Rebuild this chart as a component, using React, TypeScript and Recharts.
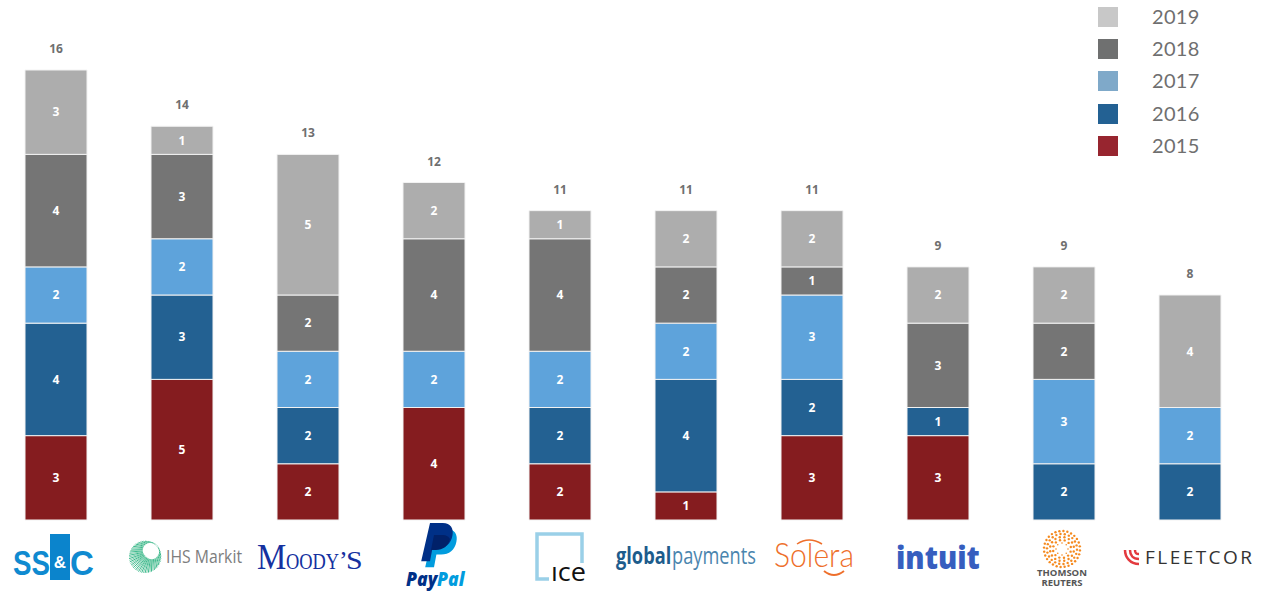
import { Bar, ComposedChart, LabelList, Legend, Line, XAxis, YAxis } from "recharts"

const companies = ["SS&C", "IHS Markit", "Moody's", "PayPal", "ICE", "Global Payments", "Solera", "Intuit", "Thomson Reuters", "FleetCor"]
const y2015 = [3, 5, 2, 4, 2, 1, 3, 3, null, null]
const y2016 = [4, 3, 2, null, 2, 4, 2, 1, 2, 2]
const y2017 = [2, 2, 2, 2, 2, 2, 3, null, 3, 2]
const y2018 = [4, 3, 2, 4, 4, 2, 1, 3, 2, null]
const y2019 = [3, 1, 5, 2, 1, 2, 2, 2, 2, 4]
const totals = [16, 14, 13, 12, 11, 11, 11, 9, 9, 8]

const seriesNames = ["2015", "2016", "2017", "2018", "2019"]
const barColors = ["#851c1f", "#236192", "#5ea3db", "#757575", "#adadad"]
const legendColors = ["#97252f", "#236193", "#7fa9c9", "#6f7070", "#c8c8c8"]

const data = companies.map((name, i) => ({
    name,
    "2015": y2015[i],
    "2016": y2016[i],
    "2017": y2017[i],
    "2018": y2018[i],
    "2019": y2019[i],
    total: totals[i],
}))

const labelFont = "'Open Sans', sans-serif"
const sansFont = "'Open Sans', sans-serif"

function YearLegend() {
    return (
        <div style={{ width: 120 }}>
            {seriesNames.map((_, i) => seriesNames.length - 1 - i).map(i => (
                <div key={seriesNames[i]} style={{ display: "flex", alignItems: "center", height: 32.2 }}>
                    <div style={{ width: 20, height: 20, background: legendColors[i] }} />
                    <div style={{ marginLeft: 34, position: "relative", top: -1, fontFamily: "Lato, sans-serif", fontSize: 20, letterSpacing: 0.3, color: "#6f6f6f" }}>
                        {seriesNames[i]}
                    </div>
                </div>
            ))}
        </div>
    )
}

// text stretched sideways, so its box stays where the glyphs end up
function Wide({ x, y, sx = 1, children, ...rest }: any) {
    return (
        <text transform={`translate(${x},${y}) scale(${sx},1)`} {...rest}>
            {children}
        </text>
    )
}

// the little brand marks under each column, origin is the column's centre on the baseline
function SsncLogo() {
    const font = { fontFamily: "'Liberation Sans', sans-serif", fontWeight: 700, fontSize: 36, fill: "#0f8ad0" }
    return (
        <g>
            <rect x={-6} y={14} width={20} height={46} fill="#0b84cc" />
            <Wide x={-43} y={55} sx={0.77} {...font}>SS</Wide>
            <text x={4} y={48} fill="#fff" fontSize={17} fontWeight={700} fontFamily={font.fontFamily} textAnchor="middle">&amp;</text>
            <Wide x={14} y={55} sx={0.92} {...font}>C</Wide>
        </g>
    )
}

function IhsLogo() {
    const spokes = []
    for (let i = 0; i < 60; i++) {
        const a = (i / 60) * Math.PI * 2
        const inner = 5 + 3 * (1 + Math.cos(a + 0.8))
        spokes.push(
            <line key={i} x1={-37 + 4 + Math.cos(a) * inner} y1={37 - 4 + Math.sin(a) * inner}
                x2={-37 + Math.cos(a) * 16} y2={37 + Math.sin(a) * 16}
                stroke={i % 2 ? "#3ab98d" : "#7fd0ae"} strokeWidth={1} />
        )
    }
    return (
        <g>
            {spokes}
            <text x={-16} y={43} fill="#7d7d7d" fontSize={18} fontFamily={sansFont} textLength={76} lengthAdjust="spacingAndGlyphs">IHS Markit</text>
        </g>
    )
}

function MoodysLogo() {
    const font = { fontFamily: "'Liberation Serif', serif", fill: "#15319f" }
    return (
        <g>
            <Wide x={-51} y={49} sx={0.94} fontSize={35} {...font}>M</Wide>
            <Wide x={-22} y={49} sx={0.8} fontSize={23} {...font}>OODY</Wide>
            <Wide x={31} y={49} fontSize={26} {...font}>’</Wide>
            <Wide x={38} y={49} sx={1.15} fontSize={26} {...font}>S</Wide>
        </g>
    )
}

function PaypalLogo() {
    const shape = "M0,0 h16 c10,0 14,7 12,15 c-2,10 -9,15 -19,15 h-6 l-3,15 h-11 z"
    const font = { fontFamily: sansFont, fontWeight: 800, fontStyle: "italic", fontSize: 19 }
    return (
        <g>
            <path d={shape} transform="translate(0,9) scale(.8,.85)" fill="#019cde" />
            <path d={shape} transform="translate(-4,3) scale(.8,.85)" fill="#003087" />
            <path d="M0,15 h9 c3,0 6,2 7,4 c-2,7 -7,11 -14,11 h-5 z" fill="#012169" />
            <Wide x={-28} y={66} sx={0.93} fill="#003087" {...font}>Pay</Wide>
            <Wide x={3} y={66} sx={0.93} fill="#019cde" {...font}>Pal</Wide>
        </g>
    )
}

function IceLogo() {
    return (
        <g>
            <path d="M22,43 V14 H-23 V59 H-11" fill="none" stroke="#9ad0e8" strokeWidth={3.5} />
            <text x={-9} y={61} fill="#111" fontFamily={sansFont} fontSize={25} textLength={35} lengthAdjust="spacingAndGlyphs">ıce</text>
        </g>
    )
}

function GlobalPaymentsLogo() {
    const font = { fontFamily: sansFont, fontSize: 24 }
    return (
        <g>
            <Wide x={-70} y={44} sx={0.76} fill="#1d5c8c" fontWeight={700} {...font}>global</Wide>
            <Wide x={-14} y={44} sx={0.76} fill="#4a85ae" {...font}>payments</Wide>
        </g>
    )
}

function SoleraLogo() {
    return (
        <g>
            <text x={-38} y={47} fill="#ee6f2b" fontFamily="Lato, sans-serif" fontWeight={300} fontSize={34} textLength={80} lengthAdjust="spacingAndGlyphs">Solera</text>
            <path d="M-15,24 q12,-8 25,0" fill="none" stroke="#ee6f2b" strokeWidth={1.5} />
            <path d="M12,51 q10,8 20,0" fill="none" stroke="#ee6f2b" strokeWidth={2} />
        </g>
    )
}

function IntuitLogo() {
    return (
        <Wide x={-42} y={49} sx={0.9} fill="#365ebf" fontFamily={sansFont} fontWeight={800} fontSize={32}>intuit</Wide>
    )
}

function ThomsonLogo() {
    const dots = []
    const rings = [[6, 8], [9, 12], [12, 16], [15, 22], [18, 28]]
    rings.forEach(([r, n], ri) => {
        for (let i = 0; i < n; i++) {
            const a = (i / n) * Math.PI * 2 + ri * 0.3
            dots.push(<circle key={ri + "-" + i} cx={-2 + Math.cos(a) * r} cy={29 + Math.sin(a) * r} r={ri === 0 ? 0.8 : 1.2} fill="#f58a1f" />)
        }
    })
    const font = { fontFamily: sansFont, fontWeight: 700, fontSize: 8.5, fill: "#555", textAnchor: "middle" as const }
    return (
        <g>
            {dots}
            <Wide x={-2} y={56} sx={1.12} {...font}>THOMSON</Wide>
            <Wide x={-2} y={66} sx={1.12} {...font}>REUTERS</Wide>
        </g>
    )
}

function FleetcorLogo() {
    return (
        <g>
            <path d="M-65,30 c0,7 5,14 14,14" fill="none" stroke="#e33a3f" strokeWidth={2.5} />
            <path d="M-60,30 c0,5 3,9 9,9" fill="none" stroke="#e33a3f" strokeWidth={2.5} />
            <path d="M-55,30 c0,3 1,4 4,4" fill="none" stroke="#e33a3f" strokeWidth={2.5} />
            <text x={-45} y={44} fill="#333" fontFamily={sansFont} fontSize={19} textLength={107} lengthAdjust="spacing">FLEETCOR</text>
        </g>
    )
}

const logos: Record<string, () => any> = {
    "SS&C": SsncLogo,
    "IHS Markit": IhsLogo,
    "Moody's": MoodysLogo,
    "PayPal": PaypalLogo,
    "ICE": IceLogo,
    "Global Payments": GlobalPaymentsLogo,
    "Solera": SoleraLogo,
    "Intuit": IntuitLogo,
    "Thomson Reuters": ThomsonLogo,
    "FleetCor": FleetcorLogo,
}

function LogoTick({ x, y, payload }: any) {
    const Logo = logos[payload.value]
    return (
        <g transform={`translate(${x},${y})`}>
            <Logo />
        </g>
    )
}

export default function App() {
    return (
        <div style={{ position: "absolute", left: -7, top: 0, width: 1271, height: 591, overflow: "hidden" }}>
            <ComposedChart width={1271} height={591} data={data} margin={{ top: 70, right: 11, bottom: 0, left: 0 }}>
                <XAxis dataKey="name" axisLine={false} tickLine={false} tickSize={0} tickMargin={0} height={71} interval={0} tick={<LogoTick />} />
                <YAxis hide domain={[0, 16]} />
                <Legend
                    layout="horizontal"
                    verticalAlign="middle"
                    align="center"
                    content={<YearLegend />}
                    wrapperStyle={{ position: "absolute", left: 1105, top: 1, width: 130 }}
                />
                {seriesNames.map((name, i) => (
                    <Bar key={name} dataKey={name} stackId="a" barSize={62} fill={barColors[i]} stroke="#f2f2f2" strokeWidth={1} isAnimationActive={false}>
                        <LabelList dataKey={name} position="center" fill="#fff" fontSize={12} fontWeight={700} fontFamily={labelFont} />
                    </Bar>
                ))}
                <Line dataKey="total" stroke="none" dot={false} activeDot={false} legendType="none" isAnimationActive={false}>
                    <LabelList dataKey="total" position="top" offset={17} fill="#6f6f6f" fontSize={12} fontWeight={700} fontFamily={labelFont} />
                </Line>
            </ComposedChart>
        </div>
    )
}
